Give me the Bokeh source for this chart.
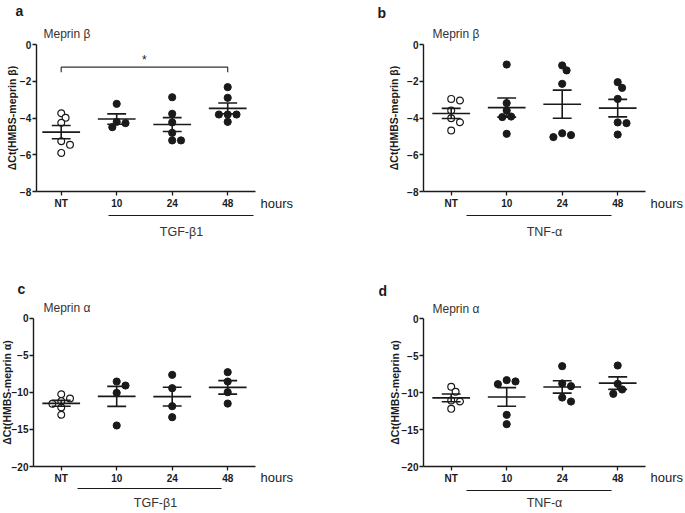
import numpy as np
from bokeh.plotting import figure
from bokeh.layouts import column, row
from bokeh.models import Range1d, FixedTicker, Label
from bokeh.embed import file_html
from bokeh.resources import INLINE

# ---------------- data ----------------
categories = ["NT", "10", "24", "48"]

# a: Meprin beta, TGF-beta1
a_nt = [-3.74, -3.99, -4.26, -5.26, -5.46, -5.90]
a_10 = [-3.23, -4.21, -4.28, -4.50]
a_24 = [-2.87, -3.77, -4.24, -4.81, -5.22, -5.22]
a_48 = [-2.32, -2.90, -3.81, -3.81, -3.81, -4.21]

# b: Meprin beta, TNF-alpha
b_nt = [-2.96, -3.05, -3.59, -4.01, -4.23, -4.68]
b_10 = [-1.09, -3.19, -3.59, -3.92, -3.95, -4.86]
b_24 = [-1.14, -1.41, -2.14, -4.83, -4.93, -5.04]
b_48 = [-2.05, -2.36, -2.96, -4.24, -4.28, -4.90]

# c: Meprin alpha, TGF-beta1
c_nt = [-10.25, -10.83, -11.19, -11.55, -12.04, -13.03]
c_10 = [-8.54, -9.08, -10.07, -14.47]
c_24 = [-7.64, -9.44, -11.87, -13.35]
c_48 = [-7.28, -8.54, -9.98, -11.51]

# d: Meprin alpha, TNF-alpha
d_nt = [-9.23, -9.91, -11.08, -11.22, -12.21]
d_10 = [-8.33, -8.51, -8.87, -13.02, -14.28]
d_24 = [-6.44, -8.78, -9.14, -10.68, -11.22]
d_48 = [-6.35, -8.83, -9.59, -10.18]

yticks_beta = [0, -2, -4, -6, -8]
yticks_alpha = [0, -5, -10, -15, -20]

# ---------------- styling ----------------
FONT = "Liberation Sans"
INK = "#1a1a1a"
GREY = "#333333"


def swarm(vals, pxx, pyy, dmin=6.3, step=4.4):
    """Simple beeswarm: horizontal offsets (data units) so dots don't overlap."""
    vals = np.asarray(vals, float)
    order = np.argsort(-vals, kind="stable")
    placed = []
    off = np.zeros(len(vals))
    for i in order:
        y = vals[i] * pyy
        dx = 0.0
        for k in [0, 1, -1, 2, -2, 3, -3, 4, -4]:
            dx = k * step
            if all((dx - px) ** 2 + (y - py) ** 2 >= dmin ** 2 for px, py in placed):
                break
        placed.append((dx, y))
        off[i] = dx / pxx
    return off


def panel(groups, *, rect, x0px, y0px, xppu, yppu, xbounds, yticks, ylabel,
          title, letter, treat, letter_px, title_px, hours_px, bracket_px,
          treat_px, label_standoff, sig=None):
    left, top, w, h = rect
    X = lambda px: (px - x0px) / xppu          # canvas px -> data x
    Y = lambda py: -(py - y0px) / yppu         # canvas px -> data y

    p = figure(width=w, height=h,
               x_range=Range1d(X(left), X(left + w)),
               y_range=Range1d(Y(top + h), Y(top)),
               output_backend="svg", toolbar_location=None, title=None,
               min_border=0)
    p.outline_line_color = None
    p.xgrid.visible = False
    p.ygrid.visible = False
    p.background_fill_color = "white"
    p.border_fill_color = "white"

    for ax in (p.xaxis[0], p.yaxis[0]):
        ax.axis_line_color = INK
        ax.axis_line_width = 1.4
        ax.major_tick_line_color = INK
        ax.major_tick_line_width = 1.3
        ax.major_tick_in = 0
        ax.major_tick_out = 4
        ax.minor_tick_line_color = None
        ax.major_label_text_font = FONT
        ax.major_label_text_font_style = "bold"
        ax.major_label_text_font_size = "10px"
        ax.major_label_text_color = INK

    xa, ya = p.xaxis[0], p.yaxis[0]
    xa.fixed_location = yticks[-1]
    xa.bounds = xbounds
    xa.ticker = FixedTicker(ticks=list(range(len(categories))))
    xa.major_label_overrides = {i: c for i, c in enumerate(categories)}
    xa.major_label_standoff = 2
    ya.fixed_location = xbounds[0]
    ya.bounds = (yticks[-1], yticks[0])
    ya.ticker = FixedTicker(ticks=yticks)
    ya.major_label_standoff = 1
    ya.axis_label = ylabel
    ya.axis_label_text_font = FONT
    ya.axis_label_text_font_style = "bold"
    ya.axis_label_text_font_size = "10.5px"
    ya.axis_label_text_color = INK
    ya.axis_label_standoff = label_standoff

    for gi, vals in enumerate(groups):
        vals = np.asarray(vals, float)
        xs = gi + swarm(vals, xppu, yppu)
        if gi == 0:
            p.scatter(xs, vals, size=6.8, marker="circle", fill_color="white",
                      line_color=INK, line_width=1.2)
        else:
            p.scatter(xs, vals, size=7.2, marker="circle", fill_color=INK,
                      line_color=INK, line_width=1)
        m = vals.mean()
        s = vals.std(ddof=1) / np.sqrt(len(vals))
        p.segment(x0=[gi - 0.34, gi - 0.17, gi - 0.17, gi],
                  y0=[m, m + s, m - s, m - s],
                  x1=[gi + 0.34, gi + 0.17, gi + 0.17, gi],
                  y1=[m, m + s, m - s, m + s],
                  line_color=INK, line_width=1.6)

    if sig is not None:
        g0, g1, ytop_px, ydrop_px, star_px, star = sig
        p.line([g0, g0, g1, g1], [Y(ydrop_px), Y(ytop_px), Y(ytop_px), Y(ydrop_px)],
               line_color=GREY, line_width=1.2)
        p.add_layout(Label(x=(g0 + g1) / 2, y=Y(star_px), text=star,
                           text_font=FONT, text_font_size="12px",
                           text_align="center", text_baseline="middle",
                           text_color=INK))

    p.add_layout(Label(x=X(letter_px[0]), y=Y(letter_px[1]), text=letter,
                       text_font=FONT, text_font_size="14px",
                       text_font_style="bold", text_color=INK,
                       text_baseline="alphabetic"))
    p.add_layout(Label(x=X(title_px[0]), y=Y(title_px[1]), text=title,
                       text_font=FONT, text_font_size="12px",
                       text_color=GREY, text_baseline="alphabetic"))
    p.add_layout(Label(x=X(hours_px[0]), y=Y(hours_px[1]), text="hours",
                       text_font=FONT, text_font_size="13px",
                       text_color=INK, text_baseline="alphabetic"))
    bx0, bx1, by = bracket_px
    p.line([X(bx0), X(bx1)], [Y(by), Y(by)], line_color=INK, line_width=1.1)
    p.add_layout(Label(x=X(treat_px[0]), y=Y(treat_px[1]), text=treat,
                       text_font=FONT, text_font_size="12.5px",
                       text_color=GREY, text_align="center",
                       text_baseline="middle"))
    return p


pa = panel([a_nt, a_10, a_24, a_48], rect=(0, 0, 342, 255),
           x0px=60.7, y0px=44, xppu=55.5, yppu=147 / 8,
           xbounds=(-0.45, 3.5), yticks=yticks_beta,
           ylabel="ΔCt(HMBS-meprin β)", title="Meprin β", letter="a",
           treat="TGF-β1", letter_px=(15, 10), title_px=(43, 33),
           hours_px=(260, 203), bracket_px=(108, 253, 215),
           treat_px=(181, 231), label_standoff=-1,
           sig=(0, 3, 66.7, 71.7, 59.5, "*"))

pb = panel([b_nt, b_10, b_24, b_48], rect=(342, 0, 343, 255),
           x0px=450.7, y0px=44, xppu=55.5, yppu=147 / 8,
           xbounds=(-0.5, 3.5), yticks=yticks_beta,
           ylabel="ΔCt(HMBS-meprin β)", title="Meprin β", letter="b",
           treat="TNF-α", letter_px=(377, 12.5), title_px=(432, 33),
           hours_px=(650, 203), bracket_px=(466, 611, 215),
           treat_px=(544, 231), label_standoff=4)

pc = panel([c_nt, c_10, c_24, c_48], rect=(0, 255, 342, 258),
           x0px=60.7, y0px=317.7, xppu=55.5, yppu=148.3 / 20,
           xbounds=(-0.5, 3.5), yticks=yticks_alpha,
           ylabel="ΔCt(HMBS-meprin α)", title="Meprin α", letter="c",
           treat="TGF-β1", letter_px=(17, 288), title_px=(43, 307),
           hours_px=(260, 477), bracket_px=(77, 221, 488),
           treat_px=(155, 502), label_standoff=-4)

pd_ = panel([d_nt, d_10, d_24, d_48], rect=(342, 255, 343, 258),
            x0px=450.7, y0px=318, xppu=55.5, yppu=148 / 20,
            xbounds=(-0.5, 3.5), yticks=yticks_alpha,
            ylabel="ΔCt(HMBS-meprin α)", title="Meprin α", letter="d",
            treat="TNF-α", letter_px=(378, 290), title_px=(432, 308),
            hours_px=(650, 477), bracket_px=(466, 611, 490),
            treat_px=(544, 502), label_standoff=-2)

layout = column(row(pa, pb), row(pc, pd_))

with open("out.html", "w") as f:
    f.write(file_html(layout, INLINE))
